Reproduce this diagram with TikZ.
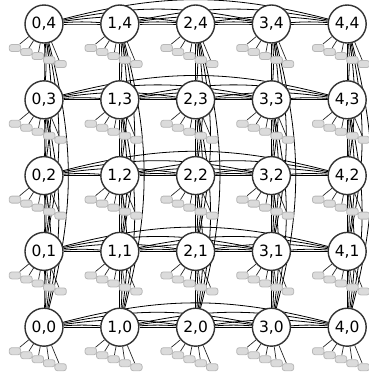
\documentclass[tikz,border=0pt]{standalone}
\usepackage{fontspec}
\setmainfont{DejaVu Sans}
\pgfdeclarelayer{bg}
\pgfsetlayers{bg,main}
\tikzset{
  circ/.style={circle,draw=black!80,line width=1.4pt,fill=white,minimum size=38pt,inner sep=0pt,font=\fontsize{15.5}{16}\selectfont},
  port/.style={rectangle,rounded corners=2.5pt,draw=black!28,fill=black!14,line width=0.8pt,minimum width=11.5pt,minimum height=7pt,inner sep=0pt},
  link/.style={draw=black,line width=0.8pt},
  plink/.style={draw=black!85,line width=0.7pt}
}
\begin{document}
\begin{tikzpicture}[x=1pt,y=1pt]
\useasboundingbox (0,-376) rectangle (369,0);
\foreach \i in {0,...,4}{
  \foreach \j in {0,...,4}{
    \node[circ] (n\i\j) at ({44+75.8*\i},{-24-75.8*(4-\j)}) {\i,\j};
    \foreach \k in {0,...,4}{
      \node[port] (r\i\j\k) at ({44+75.8*\i-29+11.4*\k},{-24-75.8*(4-\j)-24-4*\k}) {};
      \begin{pgfonlayer}{bg}
        \draw[plink] (n\i\j) -- (r\i\j\k);
      \end{pgfonlayer}
    }
  }
}
\begin{pgfonlayer}{bg}
% horizontal (row) links
\foreach \j in {0,...,4}{
  \foreach \a in {0,...,3}{
    \pgfmathtruncatemacro\ast{\a+1}
    \foreach \b in {\ast,...,4}{
      \pgfmathtruncatemacro\d{\b-\a}
      \pgfmathsetmacro\bA{{0,8,11.5,14.5}[\d-1]}
      \draw[link] (n\a\j) to[bend left=\bA] (n\b\j);
      \ifnum\d=1 \draw[link] (n\a\j) to[bend left=4] (n\b\j); \fi
    }
  }
}
% vertical (column) links
\foreach \i in {0,...,4}{
  \foreach \a in {1,...,4}{
    \pgfmathtruncatemacro\aend{\a-1}
    \foreach \b in {0,...,\aend}{
      \pgfmathtruncatemacro\d{\a-\b}
      \pgfmathsetmacro\bA{{0,8,11.5,14.5}[\d-1]}
      \draw[link] (n\i\a) to[bend left=\bA] (n\i\b);
      \ifnum\d=1 \draw[link] (n\i\a) to[bend left=4] (n\i\b); \fi
    }
  }
}
\end{pgfonlayer}
\end{tikzpicture}
\end{document}
